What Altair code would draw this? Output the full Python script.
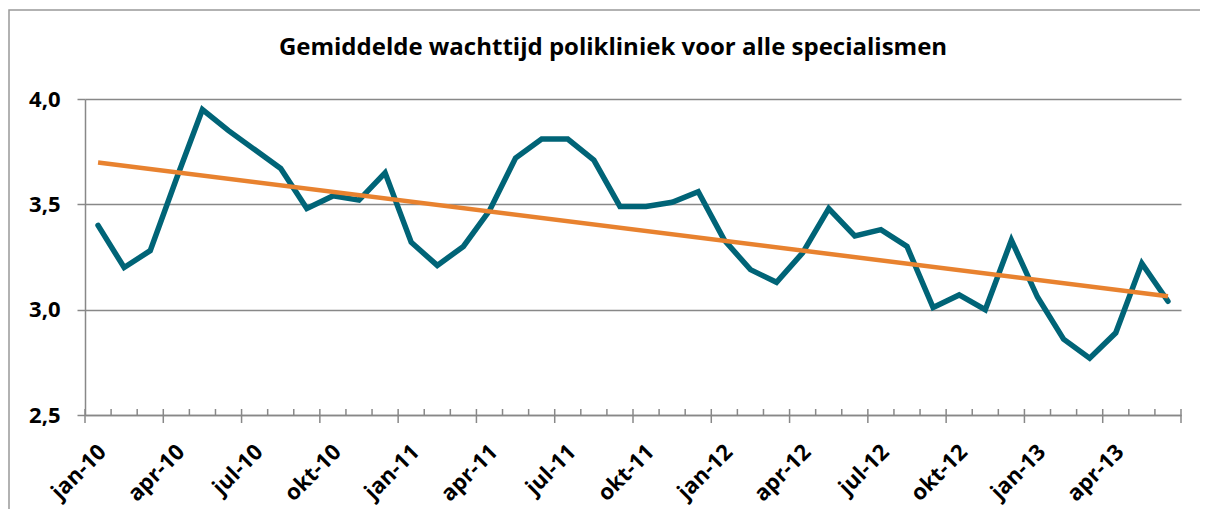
import altair as alt
import pandas as pd

# ---- data ----
months = ["jan", "feb", "mrt", "apr", "mei", "jun", "jul", "aug", "sep", "okt", "nov", "dec"]
years = ["10", "11", "12", "13"]
values = [3.40, 3.20, 3.28, 3.62, 3.95, 3.85, 3.76, 3.67, 3.48, 3.54, 3.52, 3.65,
          3.32, 3.21, 3.30, 3.47, 3.72, 3.81, 3.81, 3.71, 3.49, 3.49, 3.51, 3.56,
          3.33, 3.19, 3.13, 3.27, 3.48, 3.35, 3.38, 3.30, 3.01, 3.07, 3.00, 3.33,
          3.06, 2.86, 2.77, 2.89, 3.22, 3.04]
title_text = "Gemiddelde wachttijd polikliniek voor alle specialismen"
y_ticks = [2.5, 3.0, 3.5, 4.0]

labels = [f"{m}-{y}" for y in years for m in months][: len(values)]
df = pd.DataFrame({"i": list(range(len(values))), "maand": labels, "waarde": values})

label_idx = [i for i in range(len(values)) if i % 3 == 0]
label_map = {i: labels[i] for i in label_idx}
label_expr = "{" + ",".join(f"'{k}':'{v}'" for k, v in label_map.items()) + "}[datum.value]"

bounds = [i - 0.5 for i in range(len(values) + 1)]
ticks_df = pd.DataFrame({"b": bounds, "major": [(k % 3 == 0) for k in range(len(bounds))]})

W, H = 1096, 316
GRAY = "#888888"
FONT = "Open Sans"

x_scale = alt.Scale(domain=[-0.5, len(values) - 0.5], nice=False, zero=False)
y_scale = alt.Scale(domain=[2.5, 4.0], nice=False, zero=False)

x_axis = alt.Axis(values=label_idx, labelExpr=label_expr, labelAngle=-45,
                  labelAlign="right", labelBaseline="middle", labelPadding=33,
                  labelOffset=4,
                  ticks=False, tickSize=0, grid=False, domainColor=GRAY, domainWidth=1.5,
                  labelFont=FONT, labelFontSize=22, labelFontWeight="bold",
                  labelColor="#000000", title=None, labelOverlap=False)
y_axis = alt.Axis(values=y_ticks, labelExpr="replace(format(datum.value, '.1f'), '.', ',')",
                  tickSize=8, tickColor=GRAY, tickWidth=1.5, domainColor=GRAY, domainWidth=1.5,
                  grid=True, gridColor=GRAY, gridWidth=1.5, labelPadding=17,
                  labelFont=FONT, labelFontSize=22, labelFontWeight="bold",
                  labelColor="#000000", title=None)

base = alt.Chart(df)

border = alt.Chart(pd.DataFrame({"a": [0]})).mark_rect(
    fill=None, stroke="#999999", strokeWidth=1.5
).encode(x=alt.value(-76), x2=alt.value(1130), y=alt.value(-89), y2=alt.value(430))

title = alt.Chart(pd.DataFrame({"t": [title_text]})).mark_text(
    font=FONT, fontSize=24, fontWeight="bold", color="#000000",
    align="center", baseline="alphabetic"
).encode(text="t:N", x=alt.value(528), y=alt.value(-44))

line = base.mark_line(color="#006477", strokeWidth=5.5, strokeJoin="miter", strokeCap="round").encode(
    x=alt.X("i:Q", scale=x_scale, axis=x_axis),
    y=alt.Y("waarde:Q", scale=y_scale, axis=y_axis),
)

trend = base.transform_regression("i", "waarde").mark_line(
    color="#E8822F", strokeWidth=4.5, strokeCap="butt"
).encode(x=alt.X("i:Q", scale=x_scale), y=alt.Y("waarde:Q", scale=y_scale))

minor = alt.Chart(ticks_df).transform_filter("!datum.major").mark_rule(
    color=GRAY, strokeWidth=1.5
).encode(x=alt.X("b:Q", scale=x_scale), y=alt.value(H - 6), y2=alt.value(H))

major = alt.Chart(ticks_df).transform_filter("datum.major").mark_rule(
    color=GRAY, strokeWidth=1.5
).encode(x=alt.X("b:Q", scale=x_scale), y=alt.value(H - 6), y2=alt.value(H + 8))

chart = alt.layer(border, title, line, trend, minor, major).properties(
    width=W, height=H,
    autosize=alt.AutoSizeParams(type="none"),
    padding={"left": 77, "top": 91, "right": 19, "bottom": 94},
).configure_view(stroke=None)

chart.save("out.html", embed_options={"renderer": "svg", "actions": False})
